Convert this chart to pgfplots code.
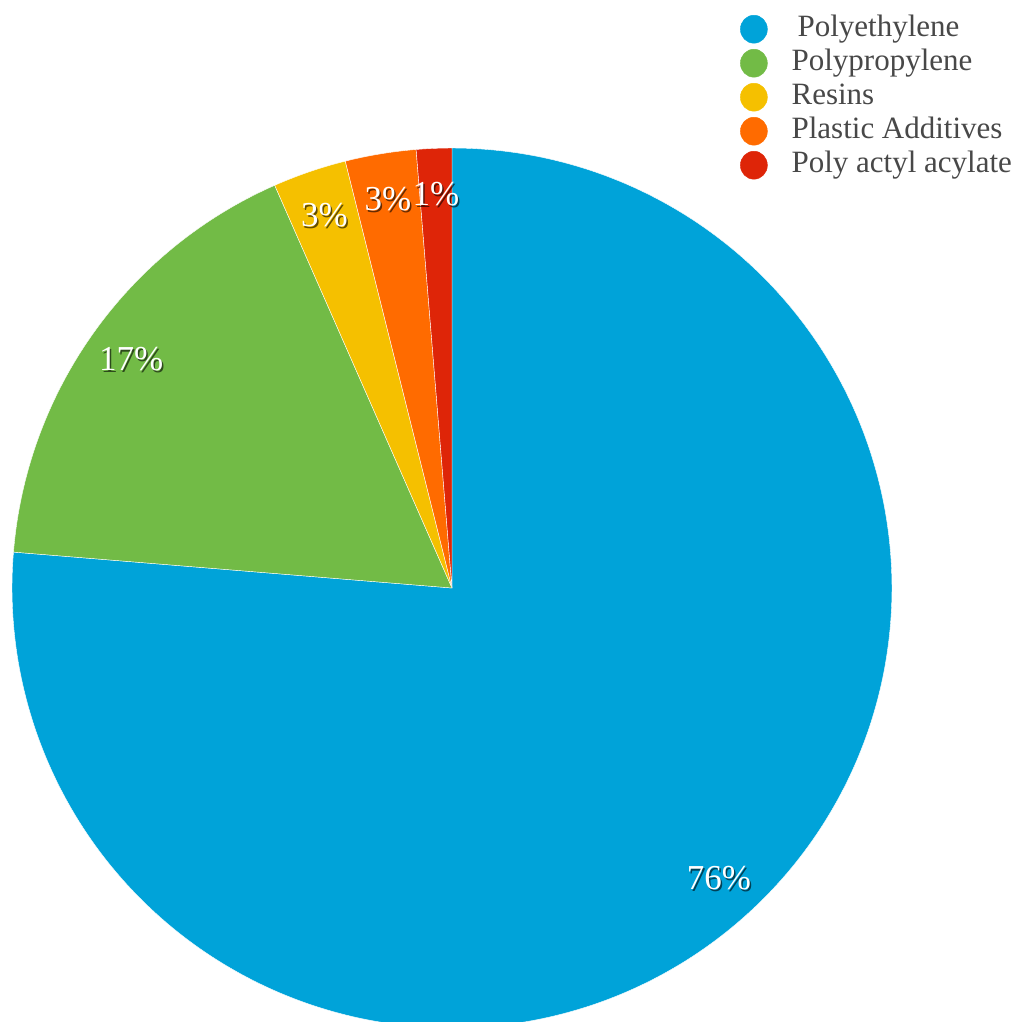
\documentclass[border=0pt]{standalone}
\usepackage{pgfplots}
\usepackage{pgfplotstable}
\usepackage{fontspec}
\setmainfont{Liberation Serif}
\pgfplotsset{compat=1.18}
\definecolor{cPE}{RGB}{0,163,217}
\definecolor{cPP}{RGB}{114,187,70}
\definecolor{cRS}{RGB}{245,192,0}
\definecolor{cPA}{RGB}{255,107,0}
\definecolor{cPAA}{RGB}{222,37,8}
\definecolor{legtext}{RGB}{72,72,72}
\pgfplotstableread{
name value
PE 76.3
PP 17.1
RS 2.7
PA 2.6
PAA 1.3
}\piedata
\pgfplotstablegetelem{0}{value}\of\piedata\let\vA\pgfplotsretval
\pgfplotstablegetelem{1}{value}\of\piedata\let\vB\pgfplotsretval
\pgfplotstablegetelem{2}{value}\of\piedata\let\vC\pgfplotsretval
\pgfplotstablegetelem{3}{value}\of\piedata\let\vD\pgfplotsretval
\pgfplotstablegetelem{4}{value}\of\piedata\let\vE\pgfplotsretval
\pgfmathsetmacro\aA{90}
\pgfmathsetmacro\aB{\aA-3.6*\vA}
\pgfmathsetmacro\aC{\aB-3.6*\vB}
\pgfmathsetmacro\aD{\aC-3.6*\vC}
\pgfmathsetmacro\aE{\aD-3.6*\vD}
\pgfmathsetmacro\aF{\aE-3.6*\vE}
\pgfmathsetmacro\mA{(\aA+\aB)/2}
\pgfmathsetmacro\mB{(\aB+\aC)/2}
\pgfmathsetmacro\mC{(\aC+\aD)/2}
\pgfmathsetmacro\mD{(\aD+\aE)/2}
\pgfmathsetmacro\mE{(\aE+\aF)/2}
\newcommand{\plabel}[2]{%
  \node[font=\fontsize{35bp}{40bp}\selectfont, text=black, opacity=0.6, xshift=1.5bp, yshift=-2bp] at (axis cs:{394*cos(#1)},{394*sin(#1)}) {#2};
  \node[font=\fontsize{35bp}{40bp}\selectfont, text=white] at (axis cs:{394*cos(#1)},{394*sin(#1)}) {#2};
}
\begin{document}%
\begin{tikzpicture}
\begin{axis}[at={(0,0)}, anchor=south west,
  width=1016bp, height=1022bp, scale only axis, hide axis,
  xmin=-452, xmax=564, ymin=-434, ymax=588, clip=true,
  legend cell align=left,
  legend style={at={(axis cs:288,574)}, anchor=north west, draw=none, fill=none,
    font=\fontsize{31bp}{34bp}\selectfont, text=legtext, inner sep=0pt,
    column sep=24bp, row sep=4bp,
    nodes={inner sep=0pt, text height=22bp, text depth=8bp}},
]
\addplot[forget plot, fill=cPE, draw=white, line width=0.4bp, domain=\aB:\aA, samples=300] ({440*cos(x)},{440*sin(x)}) -- (axis cs:0,0) -- cycle;
\addplot[forget plot, fill=cPP, draw=white, line width=0.4bp, domain=\aC:\aB, samples=100] ({440*cos(x)},{440*sin(x)}) -- (axis cs:0,0) -- cycle;
\addplot[forget plot, fill=cRS, draw=white, line width=0.4bp, domain=\aD:\aC, samples=30] ({440*cos(x)},{440*sin(x)}) -- (axis cs:0,0) -- cycle;
\addplot[forget plot, fill=cPA, draw=white, line width=0.4bp, domain=\aE:\aD, samples=30] ({440*cos(x)},{440*sin(x)}) -- (axis cs:0,0) -- cycle;
\addplot[forget plot, fill=cPAA, draw=white, line width=0.4bp, domain=\aF:\aE, samples=20] ({440*cos(x)},{440*sin(x)}) -- (axis cs:0,0) -- cycle;
\addlegendimage{legend image code/.code={\fill[cPE] (0bp,0bp) ellipse (13.5bp and 14bp);}}
\addlegendentry{\hspace{6bp}Polyethylene}
\addlegendimage{legend image code/.code={\fill[cPP] (0bp,0bp) ellipse (13.5bp and 14bp);}}
\addlegendentry{Polypropylene}
\addlegendimage{legend image code/.code={\fill[cRS] (0bp,0bp) ellipse (13.5bp and 14bp);}}
\addlegendentry{Resins}
\addlegendimage{legend image code/.code={\fill[cPA] (0bp,0bp) ellipse (13.5bp and 14bp);}}
\addlegendentry{Plastic Additives}
\addlegendimage{legend image code/.code={\fill[cPAA] (0bp,0bp) ellipse (13.5bp and 14bp);}}
\addlegendentry{Poly actyl acylate}
\plabel{\mA}{76\%}
\plabel{\mB}{17\%}
\plabel{\mC}{3\%}
\plabel{\mD}{3\%}
\plabel{\mE}{1\%}
\end{axis}
\pgfresetboundingbox
\path[use as bounding box] (0,0) rectangle (1016bp,1022bp);
\end{tikzpicture}%
\end{document}
